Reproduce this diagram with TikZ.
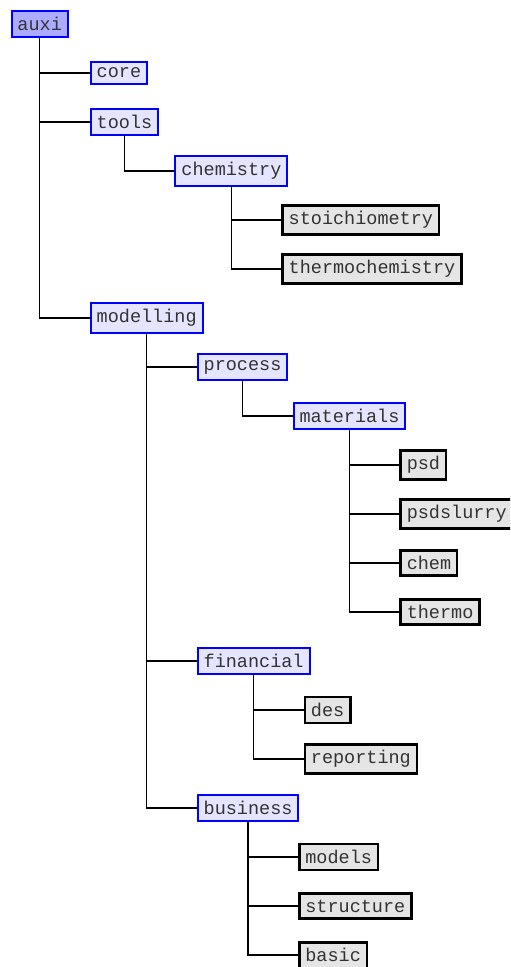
\documentclass[tikz,border=0pt]{standalone}
\usepackage{fontspec}
\setmonofont{Liberation Mono}
\usepackage{tikz}
\usetikzlibrary{calc}

\tikzset{
  folder/.style={draw=blue,line width=1pt,fill=blue!10,text=black!80,anchor=west,inner sep=3pt,
    font=\ttfamily\fontsize{9.25}{11}\selectfont},
  rootfolder/.style={folder,fill=blue!33},
  leaf/.style={folder,draw=black,line width=1.3pt,fill=black!10},
  link/.style={line width=0.65pt}
}

\begin{document}
\begin{tikzpicture}[x=0.5pt,y=-0.5pt]
\clip (0,0) rectangle (510,967);
\node[rootfolder](auxi) at (10.5,24) {auxi};
\node[folder](core) at ([shift={(50,49)}]auxi.center) {core};
\node[folder](tools) at ([shift={(50,98)}]auxi.center) {tools};
\node[folder](chemistry) at ([shift={(50,49)}]tools.center) {chemistry};
\node[leaf](stoichiometry) at ([shift={(50,49)}]chemistry.center) {stoichiometry};
\node[leaf](thermochemistry) at ([shift={(50,98)}]chemistry.center) {thermochemistry};
\node[folder](modelling) at ([shift={(50,294)}]auxi.center) {modelling};
\node[folder](process) at ([shift={(50,49)}]modelling.center) {process};
\node[folder](materials) at ([shift={(50,49)}]process.center) {materials};
\node[leaf](psd) at ([shift={(50,49)}]materials.center) {psd};
\node[leaf](psdslurry) at ([shift={(50,98)}]materials.center) {psdslurry};
\node[leaf](chem) at ([shift={(50,147)}]materials.center) {chem};
\node[leaf](thermo) at ([shift={(50,196)}]materials.center) {thermo};
\node[folder](financial) at ([shift={(50,343)}]modelling.center) {financial};
\node[leaf](des) at ([shift={(50,49)}]financial.center) {des};
\node[leaf](reporting) at ([shift={(50,98)}]financial.center) {reporting};
\node[folder](business) at ([shift={(50,490)}]modelling.center) {business};
\node[leaf](models) at ([shift={(50,49)}]business.center) {models};
\node[leaf](structure) at ([shift={(50,98)}]business.center) {structure};
\node[leaf](basic) at ([shift={(50,147)}]business.center) {basic};
% tree lines
\draw[link](auxi.south)|-(core.west);
\draw[link](auxi.south)|-(tools.west);
\draw[link](auxi.south)|-(modelling.west);
\draw[link](tools.south)|-(chemistry.west);
\draw[link](chemistry.south)|-(stoichiometry.west);
\draw[link](chemistry.south)|-(thermochemistry.west);
\draw[link](modelling.south)|-(process.west);
\draw[link](modelling.south)|-(financial.west);
\draw[link](modelling.south)|-(business.west);
\draw[link](process.south)|-(materials.west);
\draw[link](materials.south)|-(psd.west);
\draw[link](materials.south)|-(psdslurry.west);
\draw[link](materials.south)|-(chem.west);
\draw[link](materials.south)|-(thermo.west);
\draw[link](financial.south)|-(des.west);
\draw[link](financial.south)|-(reporting.west);
\draw[link](business.south)|-(models.west);
\draw[link](business.south)|-(structure.west);
\draw[link](business.south)|-(basic.west);
\end{tikzpicture}
\end{document}
